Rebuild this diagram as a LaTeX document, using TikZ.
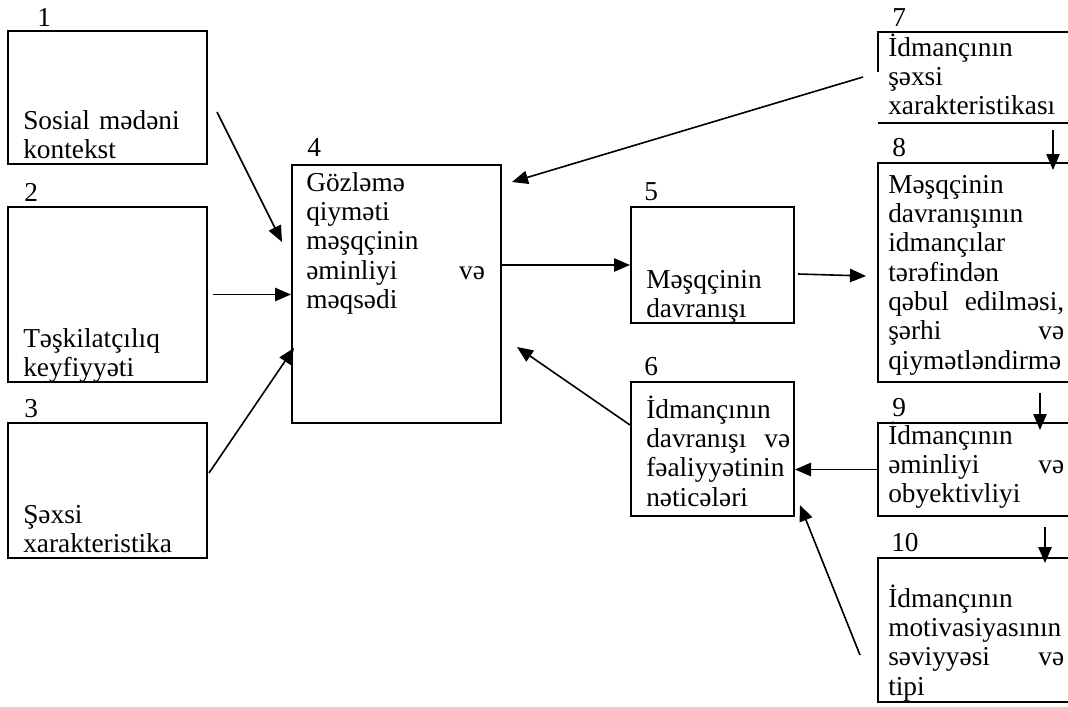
\documentclass[tikz,border=0pt]{standalone}
\usepackage{fontspec}
\setmainfont{Liberation Serif}
\usetikzlibrary{arrows.meta,fit,calc}

\begin{document}
\begin{tikzpicture}[x=0.75pt,y=-0.75pt,
    box/.style={draw, line width=1.5pt, inner sep=0pt},
    rim/.style={line width=1.5pt},
    txt/.style={anchor=base west, inner sep=0pt, align=left, text width=#1,
        font=\fontsize{20.5}{22}\selectfont},
    txt/.default=150pt,
    num/.style={anchor=base west, inner sep=0pt, font=\fontsize{20.5}{22}\selectfont},
    arr/.style={-{Triangle[length=12pt,width=10pt]}, line width=1.2pt}]
    \useasboundingbox (0,0) rectangle (1068,707);
    \clip (0,0) rectangle (1068,707);

    % Left column
    \node[box, fit={(8,31) (207,164)}] (b1) {};
    \node[box, fit={(8,207) (207,382)}] (b2) {};
    \node[box, fit={(8,423) (207,558)}] (b3) {};
    \node[num] (n1) at (37,26) {1};
    \node[num] (n2) at (24,201) {2};
    \node[num] (n3) at (24,417) {3};
    \node[txt] (t1) at (23,129) {Sosial mədəni\\kontekst};
    \node[txt] (t2) at (23,347) {Təşkilatçılıq\\keyfiyyəti};
    \node[txt] (t3) at (23,523) {Şəxsi\\xarakteristika};

    % Middle
    \node[box, fit={(292,165) (501,423)}] (b4) {};
    \node[box, fit={(631,207) (794,323)}] (b5) {};
    \node[box, fit={(631,382) (794,516)}] (b6) {};
    \node[num] (n4) at (307,156) {4};
    \node[num] (n5) at (644,200) {5};
    \node[num] (n6) at (644,375) {6};
    \node[txt=134pt] (t4) at (306,191) {Gözləmə\\qiyməti\\məşqçinin\\əminliyi\hfill və\\məqsədi};
    \node[txt=120pt] (t5) at (646,288) {Məşqçinin\\davranışı};
    \node[txt=108pt] (t6) at (646,418) {İdmançının\\davranışı\hfill və\\fəaliyyətinin\\nəticələri};

    % Right column
    \node[inner sep=0pt, fit={(878,32) (1080,123)}] (b7) {};
    \draw[rim] ($(b7.north west)+(0,40)$) -- (b7.north west) -- (b7.north east);
    \draw[rim] (b7.south west) -- (b7.south east);
    \node[box, fit={(878,163) (1080,382)}] (b8) {};
    \node[box, fit={(878,423) (1080,516)}] (b9) {};
    \node[box, fit={(878,558) (1080,702)}] (b10) {};
    \node[num] (n7) at (892,26) {7};
    \node[num] (n8) at (892,156) {8};
    \node[num] (n9) at (892,416) {9};
    \node[num] (n10) at (891,551) {10};
    \node[txt=132pt] (t7) at (888,56) {İdmançının\\şəxsi\\xarakteristikası};
    \node[txt=132pt] (t8) at (888,193) {Məşqçinin\\davranışının\\idmançılar\\tərəfindən\\qəbul\hfill edilməsi,\\şərhi\hfill və\\qiymətləndirmə};
    \node[txt=132pt] (t9) at (888,444) {İdmançının\\əminliyi\hfill və\\obyektivliyi};
    \node[txt=132pt] (t10) at (888,607) {İdmançının\\motivasiyasının\\səviyyəsi\hfill və\\tipi};

    % Arrow ends
    \coordinate (p1) at (217,112);  \coordinate (q1) at (282,242);
    \coordinate (p3) at (209,473);  \coordinate (q3) at (294,348);
    \coordinate (p7) at (863,77);   \coordinate (q7) at (512,182);
    \coordinate (p5) at (798,274);  \coordinate (q5) at (866,276);
    \coordinate (p6) at (630,425);  \coordinate (q6) at (517,347);
    \coordinate (p10) at (860,655); \coordinate (q10) at (800,505);
    \coordinate (p78) at (1053,130); \coordinate (q78) at (1053,170);
    \coordinate (p89) at (1040,393); \coordinate (q89) at (1040,430);
    \coordinate (p910) at (1045,527); \coordinate (q910) at (1045,563);

    % Arrows
    \draw[arr] (p1) -- (q1);
    \draw[arr] ([xshift=3.75pt]b2.east) -- (b2.east -| b4.west);
    \draw[arr] (p3) -- (q3);
    \draw[arr] (p7) -- (q7);
    \draw[arr] (b4.east |- b5.west) -- (b5.west);
    \draw[arr] (p5) -- (q5);
    \draw[arr] (p6) -- (q6);
    \draw[arr] (b9.west) -- (b9.west -| b6.east);
    \draw[arr] (p10) -- (q10);
    \draw[arr] (p78) -- (q78);
    \draw[arr] (p89) -- (q89);
    \draw[arr] (p910) -- (q910);
\end{tikzpicture}
\end{document}
